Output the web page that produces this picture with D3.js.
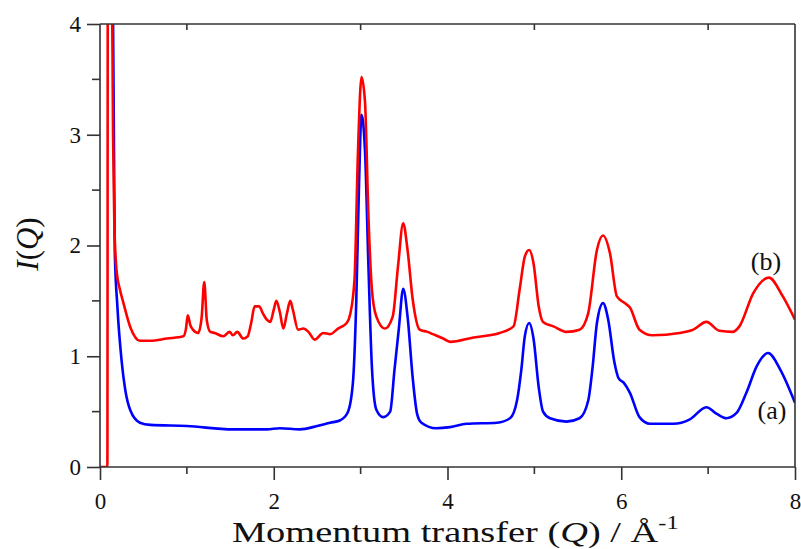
<!DOCTYPE html>
<html>
<head>
<meta charset="utf-8">
<script src="https://cdn.jsdelivr.net/npm/d3@7"></script>
<style>
  body { margin: 0; background: #fff; }
  text { font-family: "Liberation Serif", "Times New Roman", serif; fill: #111; }
</style>
</head>
<body>
<div id="viz"></div>
<script>

// curve (a) - blue
var qA = [0.145, 0.16, 0.17, 0.2, 0.25, 0.29, 0.35, 0.46, 0.58, 1.0, 1.53, 1.92, 2.07, 2.3, 2.5, 2.65, 2.76, 2.85, 2.91, 2.95, 2.98, 3.01, 3.05, 3.09, 3.13, 3.18, 3.26, 3.34, 3.39, 3.44, 3.49, 3.54, 3.6, 3.65, 3.7, 3.87, 4.03, 4.22, 4.57, 4.72, 4.8, 4.85, 4.89, 4.94, 4.99, 5.05, 5.1, 5.18, 5.37, 5.52, 5.62, 5.67, 5.72, 5.79, 5.85, 5.92, 5.97, 6.03, 6.1, 6.21, 6.33, 6.6, 6.79, 6.98, 7.1, 7.21, 7.33, 7.44, 7.56, 7.69, 7.83, 8.0];
var iA = [4.6, 3.0, 1.95, 1.45, 0.95, 0.70, 0.51, 0.40, 0.38, 0.37, 0.34, 0.34, 0.35, 0.34, 0.37, 0.40, 0.42, 0.49, 0.75, 1.5, 2.5, 3.18, 2.86, 1.81, 0.9, 0.52, 0.45, 0.5, 0.88, 1.25, 1.61, 1.36, 0.8, 0.48, 0.40, 0.35, 0.36, 0.39, 0.40, 0.44, 0.6, 0.88, 1.18, 1.30, 1.16, 0.72, 0.50, 0.44, 0.41, 0.44, 0.6, 0.9, 1.30, 1.48, 1.33, 0.95, 0.8, 0.76, 0.67, 0.45, 0.39, 0.39, 0.43, 0.54, 0.48, 0.44, 0.49, 0.67, 0.91, 1.03, 0.88, 0.58];

// curve (b) - red
var qB = [0, 0.085, 0.09, 0.135, 0.15, 0.165, 0.19, 0.23, 0.27, 0.35, 0.46, 0.58, 0.77, 0.96, 0.99, 1.01, 1.04, 1.07, 1.13, 1.17, 1.2, 1.23, 1.27, 1.32, 1.42, 1.49, 1.53, 1.58, 1.65, 1.7, 1.74, 1.78, 1.83, 1.88, 1.92, 1.96, 2.0, 2.03, 2.07, 2.11, 2.15, 2.19, 2.22, 2.28, 2.34, 2.4, 2.47, 2.57, 2.65, 2.74, 2.84, 2.88, 2.93, 2.97, 3.01, 3.05, 3.09, 3.13, 3.18, 3.28, 3.37, 3.43, 3.49, 3.54, 3.6, 3.68, 3.77, 3.83, 3.95, 4.03, 4.3, 4.6, 4.76, 4.83, 4.89, 4.94, 4.99, 5.05, 5.1, 5.22, 5.37, 5.52, 5.62, 5.72, 5.79, 5.87, 5.95, 6.04, 6.1, 6.21, 6.36, 6.67, 6.83, 6.98, 7.13, 7.28, 7.36, 7.52, 7.7, 7.86, 8.0];
var iB = [0, 0, 4.6, 4.6, 3.0, 2.2, 1.78, 1.6, 1.48, 1.26, 1.14, 1.14, 1.16, 1.18, 1.25, 1.37, 1.28, 1.24, 1.21, 1.35, 1.67, 1.32, 1.22, 1.21, 1.18, 1.22, 1.19, 1.22, 1.16, 1.18, 1.3, 1.45, 1.45, 1.38, 1.33, 1.31, 1.42, 1.5, 1.4, 1.25, 1.38, 1.5, 1.42, 1.24, 1.25, 1.22, 1.15, 1.21, 1.2, 1.25, 1.30, 1.38, 1.7, 2.86, 3.52, 3.3, 2.26, 1.6, 1.36, 1.25, 1.36, 1.81, 2.2, 1.96, 1.51, 1.24, 1.22, 1.2, 1.16, 1.13, 1.17, 1.21, 1.27, 1.6, 1.9, 1.96, 1.84, 1.45, 1.31, 1.27, 1.22, 1.24, 1.39, 1.96, 2.09, 1.93, 1.54, 1.48, 1.44, 1.24, 1.19, 1.21, 1.24, 1.31, 1.23, 1.22, 1.27, 1.57, 1.71, 1.54, 1.33];

var xMajor = [0, 2, 4, 6, 8];
var xMinor = [1, 3, 5, 7];
var yMajor = [0, 1, 2, 3, 4];
var yMinor = [0.5, 1.5, 2.5, 3.5];

var width = 801,
    height = 549;

var pL = 100, pR = 795, pT = 24, pB = 467;
var serif = '"Liberation Serif", "Times New Roman", serif';

var svg = d3.select('#viz').append('svg')
  .attr('width', width)
  .attr('height', height)
  .attr('font-family', serif)

var x = d3.scaleLinear().domain([0, 8]).range([pL, pR]);
var y = d3.scaleLinear().domain([0, 4]).range([pB, pT]);

svg.append('clipPath').attr('id', 'clip')
  .append('rect')
  .attr('x', pL).attr('y', pT)
  .attr('width', pR - pL).attr('height', pB - pT)

var line = d3.line()
  .x(function(d){ return x(d[0]) })
  .y(function(d){ return y(d[1]) })
  .curve(d3.curveMonotoneX)

var dataA = qA.map(function(q, i){ return [q, iA[i]] });
var dataB = qB.map(function(q, i){ return [q, iB[i]] });

var plot = svg.append('g').attr('clip-path', 'url(#clip)')

plot.append('path')
  .datum(dataA)
  .attr('d', line)
  .attr('fill', 'none')
  .attr('stroke', '#0000ff')
  .attr('stroke-width', 2.6)

plot.append('path')
  .datum(dataB)
  .attr('d', line)
  .attr('fill', 'none')
  .attr('stroke', '#ff0000')
  .attr('stroke-width', 2.6)

// frame
var axisColor = '#333';
svg.append('line').attr('x1', pL).attr('x2', pR).attr('y1', pT).attr('y2', pT)
  .attr('stroke', axisColor).attr('stroke-width', 1.6)
svg.append('line').attr('x1', pR).attr('x2', pR).attr('y1', pT).attr('y2', pB)
  .attr('stroke', axisColor).attr('stroke-width', 1.6)

// bottom axis
var xAxis = d3.axisBottom(x).tickValues(xMajor).tickSize(13).tickPadding(8).tickFormat(d3.format('d'));
var gx = svg.append('g').attr('transform', 'translate(0,' + pB + ')').call(xAxis);
xMinor.forEach(function(v){
  gx.append('line').attr('x1', x(v)).attr('x2', x(v)).attr('y1', 0).attr('y2', 7)
});
gx.select('.domain').attr('d', 'M' + pL + ',0H' + pR);

// top minor ticks, inward
xMinor.forEach(function(v){
  svg.append('line').attr('x1', x(v)).attr('x2', x(v)).attr('y1', pT).attr('y2', pT + 6)
    .attr('stroke', axisColor).attr('stroke-width', 1.6)
});

// left axis
var yAxis = d3.axisLeft(y).tickValues(yMajor).tickSize(13).tickPadding(6).tickFormat(d3.format('d'));
var gy = svg.append('g').attr('transform', 'translate(' + pL + ',0)').call(yAxis);
yMinor.forEach(function(v){
  gy.append('line').attr('x1', 0).attr('x2', -8).attr('y1', y(v)).attr('y2', y(v))
});
gy.select('.domain').attr('d', 'M0,' + pB + 'V' + pT);

[gx, gy].forEach(function(g){
  g.attr('font-family', serif).attr('font-size', 23)
  g.selectAll('line').attr('stroke', axisColor).attr('stroke-width', 1.6)
  g.select('.domain').attr('stroke', axisColor).attr('stroke-width', 1.6)
  g.selectAll('text').attr('fill', '#111')
});
gx.selectAll('text').attr('dy', '0.9em');
gy.selectAll('text').attr('dy', '0.32em');

// x title
var xt = svg.append('text')
  .attr('transform', 'translate(232,542) scale(1.28,1)')
  .style('font-size', '30px')
xt.append('tspan').text('Momentum transfer (')
xt.append('tspan').style('font-style', 'italic').text('Q')
xt.append('tspan').text(')  / Å')
xt.append('tspan').attr('dy', -13).style('font-size', '19px').text('-1')

// y title
var yt = svg.append('text')
  .attr('transform', 'translate(38,244) rotate(-90)')
  .attr('text-anchor', 'middle')
  .style('font-size', '31px')
yt.append('tspan').style('font-style', 'italic').text('I')
yt.append('tspan').text('(')
yt.append('tspan').style('font-style', 'italic').text('Q')
yt.append('tspan').text(')')

// curve labels
svg.append('text').attr('x', 766).attr('y', 270).attr('text-anchor', 'middle')
  .style('font-size', '26px').text('(b)')
svg.append('text').attr('x', 772).attr('y', 419).attr('text-anchor', 'middle')
  .style('font-size', '26px').text('(a)')

</script>
</body>
</html>
